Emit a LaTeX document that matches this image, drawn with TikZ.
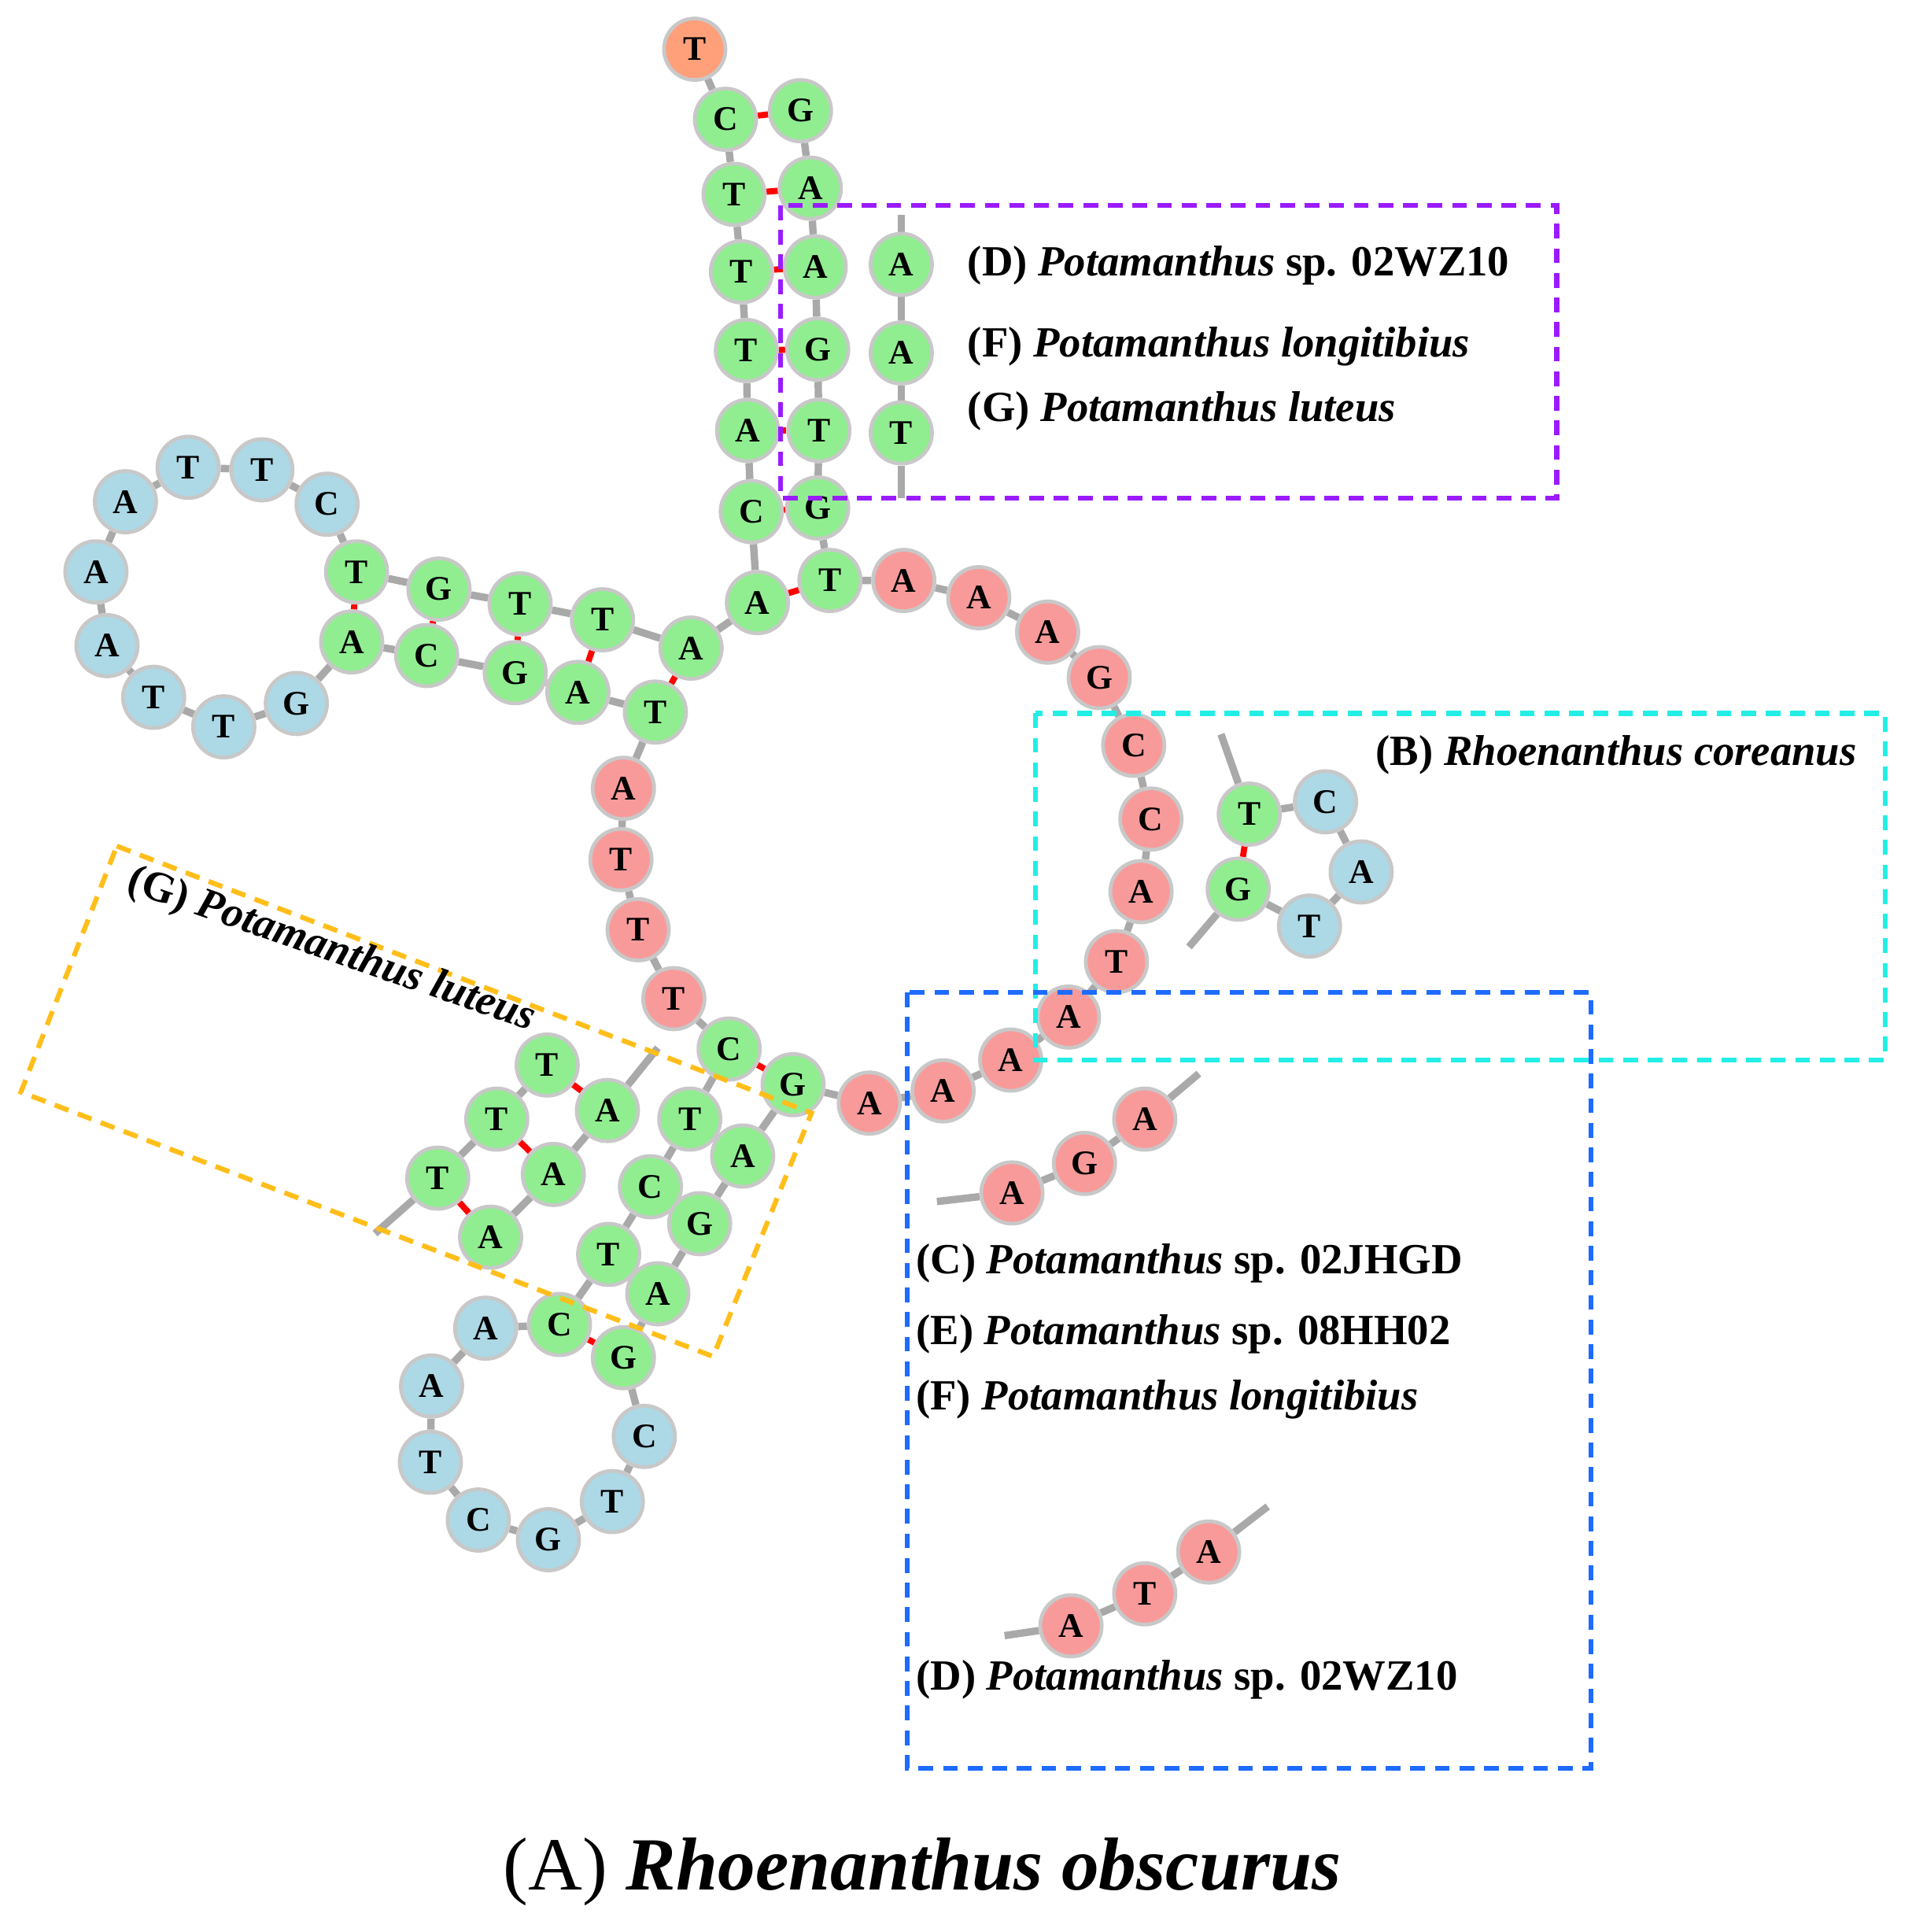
\documentclass[tikz,border=0pt]{standalone}
\usepackage{fontspec}
\setmainfont{Liberation Serif}
\usetikzlibrary{backgrounds}
\definecolor{gn}{HTML}{90EE90}
\definecolor{bl}{HTML}{ADD8E6}
\definecolor{rd}{HTML}{F99A9A}
\definecolor{og}{HTML}{FFA07A}
\definecolor{bd}{HTML}{C8C8C8}
\definecolor{bb}{HTML}{A9A9A9}
\definecolor{pu}{HTML}{9B1BFF}
\definecolor{cy}{HTML}{22EEE6}
\definecolor{db}{HTML}{1E6BFF}
\definecolor{yo}{HTML}{FFBE1A}
\tikzset{
 base/.style={circle,draw=bd,line width=1.5pt,minimum size=25pt,inner sep=0pt,font=\fontsize{14}{14}\selectfont\bfseries},
 G/.style={base,fill=gn}, L/.style={base,fill=bl}, R/.style={base,fill=rd}, O/.style={base,fill=og},
 bk/.style={draw=bb,line width=3pt},
 pr/.style={draw=red,line width=2.5pt},
 box/.style={line width=2pt,dash pattern=on 6pt off 4pt},
 lab/.style={anchor=west,font=\fontsize{17.5}{17.5}\selectfont\bfseries}
}
\newcommand{\B}[4]{\node[#4] (#1) at (#2) {#3};}
\begin{document}
\begin{tikzpicture}[x=0.5pt,y=-0.5pt]
\useasboundingbox (0,0) rectangle (1555,1571);
% acceptor stem
\B{t0}{565,40}{T}{O}
\B{a1}{590,97}{C}{G}\B{b1}{651,90}{G}{G}
\B{a2}{597,158}{T}{G}\B{b2}{659,153}{A}{G}
\B{a3}{603,221}{T}{G}\B{b3}{663,217}{A}{G}
\B{a4}{607,285}{T}{G}\B{b4}{665,284}{G}{G}
\B{a5}{608,350}{A}{G}\B{b5}{666,350}{T}{G}
\B{a6}{611,416}{C}{G}\B{b6}{665,413}{G}{G}
\B{a7}{616,490}{A}{G}\B{b7}{675,472}{T}{G}
% left arm
\B{l0}{562,527}{A}{G}\B{l1}{490,504}{T}{G}\B{l2}{423,491}{T}{G}\B{l3}{357,479}{G}{G}\B{l4}{290,465}{T}{G}
\B{m0}{533,579}{T}{G}\B{m1}{470,563}{A}{G}\B{m2}{419,547}{G}{G}\B{m3}{347,533}{C}{G}\B{m4}{286,522}{A}{G}
\B{p1}{266,410}{C}{L}\B{p2}{213,382}{T}{L}\B{p3}{153,380}{T}{L}\B{p4}{102,408}{A}{L}\B{p5}{78,465}{A}{L}
\B{p6}{87,525}{A}{L}\B{p7}{125,567}{T}{L}\B{p8}{182,591}{T}{L}\B{p9}{241,572}{G}{L}
% connector
\B{v1}{507,641}{A}{R}\B{v2}{505,699}{T}{R}\B{v3}{519,756}{T}{R}\B{v4}{548,812}{T}{R}
% bottom arm
\B{c0}{593,853}{C}{G}\B{c1}{561,910}{T}{G}\B{c2}{529,965}{C}{G}\B{c3}{495,1020}{T}{G}\B{c4}{455,1077}{C}{G}
\B{d0}{645,882}{G}{G}\B{d1}{604,940}{A}{G}\B{d2}{569,995}{G}{G}\B{d3}{535,1052}{A}{G}\B{d4}{507,1104}{G}{G}
\B{q1}{395,1080}{A}{L}\B{q2}{351,1127}{A}{L}\B{q3}{350,1189}{T}{L}\B{q4}{389,1236}{C}{L}\B{q5}{446,1252}{G}{L}\B{q6}{498,1221}{T}{L}\B{q7}{524,1168}{C}{L}
% right strand
\B{r1}{707,897}{A}{R}\B{r2}{767,887}{A}{R}\B{r3}{822,862}{A}{R}\B{r4}{869,827}{A}{R}\B{r5}{908,782}{T}{R}\B{r6}{928,725}{A}{R}
\B{r7}{936,666}{C}{R}\B{r8}{922,606}{C}{R}\B{r9}{894,551}{G}{R}\B{r10}{852,514}{A}{R}\B{r11}{796,486}{A}{R}\B{r12}{735,472}{A}{R}
% orange box extra
\B{x1}{445,866}{T}{G}\B{x2}{404,910}{T}{G}\B{x3}{356,958}{T}{G}
\B{y1}{494,903}{A}{G}\B{y2}{450,955}{A}{G}\B{y3}{399,1006}{A}{G}
\coordinate (xs) at (305,1003); \coordinate (ys) at (535,852);
% purple
\B{u1}{733,215}{A}{G}\B{u2}{733,287}{A}{G}\B{u3}{733,352}{T}{G}
\coordinate (us) at (733,175); \coordinate (ue) at (733,405);
% cyan
\B{k1}{1016,662}{T}{G}\B{k2}{1078,652}{C}{L}\B{k3}{1107,709}{A}{L}\B{k4}{1065,753}{T}{L}\B{k5}{1007,723}{G}{G}
\coordinate (ks) at (993,597); \coordinate (ke) at (967,770);
% blue
\B{e1}{823,970}{A}{R}\B{e2}{882,946}{G}{R}\B{e3}{931,910}{A}{R}
\coordinate (es) at (762,977); \coordinate (ee) at (975,873);
\B{f1}{871,1322}{A}{R}\B{f2}{931,1296}{T}{R}\B{f3}{983,1262}{A}{R}
\coordinate (fs) at (817,1330); \coordinate (fe) at (1031,1225);
\begin{scope}[on background layer]
\draw[bk] (t0)--(a1)--(a2)--(a3)--(a4)--(a5)--(a6)--(a7)--(l0)--(l1)--(l2)--(l3)--(l4)--(p1)--(p2)--(p3)--(p4)--(p5)--(p6)--(p7)--(p8)--(p9)--(m4)--(m3)--(m2)--(m1)--(m0)--(v1)--(v2)--(v3)--(v4)--(c0)--(c1)--(c2)--(c3)--(c4)--(q1)--(q2)--(q3)--(q4)--(q5)--(q6)--(q7)--(d4)--(d3)--(d2)--(d1)--(d0)--(r1)--(r2)--(r3)--(r4)--(r5)--(r6)--(r7)--(r8)--(r9)--(r10)--(r11)--(r12)--(b7)--(b6)--(b5)--(b4)--(b3)--(b2)--(b1);
\foreach \p/\q in {a1/b1,a2/b2,a3/b3,a4/b4,a5/b5,a6/b6,a7/b7,l0/m0,l1/m1,l2/m2,l3/m3,l4/m4,c0/d0,c1/d1,c2/d2,c3/d3,c4/d4,x1/y1,x2/y2,x3/y3,k1/k5}
  \draw[pr] (\p)--(\q);
\draw[bk] (xs)--(x3)--(x2)--(x1); \draw[bk] (y3)--(y2)--(y1)--(ys);
\draw[bk] (us)--(u1)--(u2)--(u3)--(ue);
\draw[bk] (ks)--(k1)--(k2)--(k3)--(k4)--(k5)--(ke);
\draw[bk] (es)--(e1)--(e2)--(e3)--(ee);
\draw[bk] (fs)--(f1)--(f2)--(f3)--(fe);
\end{scope}
% boxes
\draw[box,pu] (635,167) rectangle (1266,405);
\draw[box,cy] (842,580) rectangle (1533,862);
\draw[box,db] (738,807) rectangle (1294,1438);
\draw[box,yo] (95,688)--(660,905)--(580,1103)--(17,888)--cycle;
% labels
\node[lab] (ld1) at (780,216) {(D) \textit{Potamanthus} sp. 02WZ10};
\node[lab] (lf1) at (780,282) {(F) \textit{Potamanthus longitibius}};
\node[lab] (lg1) at (780,334) {(G) \textit{Potamanthus luteus}};
\node[lab] (lb) at (1112,614) {(B) \textit{Rhoenanthus coreanus}};
\node[lab] (lc) at (738,1027) {(C) \textit{Potamanthus} sp. 02JHGD};
\node[lab] (le) at (738,1085) {(E) \textit{Potamanthus} sp. 08HH02};
\node[lab] (lf2) at (738,1138) {(F) \textit{Potamanthus longitibius}};
\node[lab] (ld2) at (738,1366) {(D) \textit{Potamanthus} sp. 02WZ10};
\node[lab,rotate=-19] (lg2) at (98,714) {(G) \textit{Potamanthus luteus}};
\node[font=\fontsize{30.5}{30.5}\selectfont] (title) at (750,1522) {(A) \textbf{\textit{Rhoenanthus obscurus}}};
\end{tikzpicture}
\end{document}
